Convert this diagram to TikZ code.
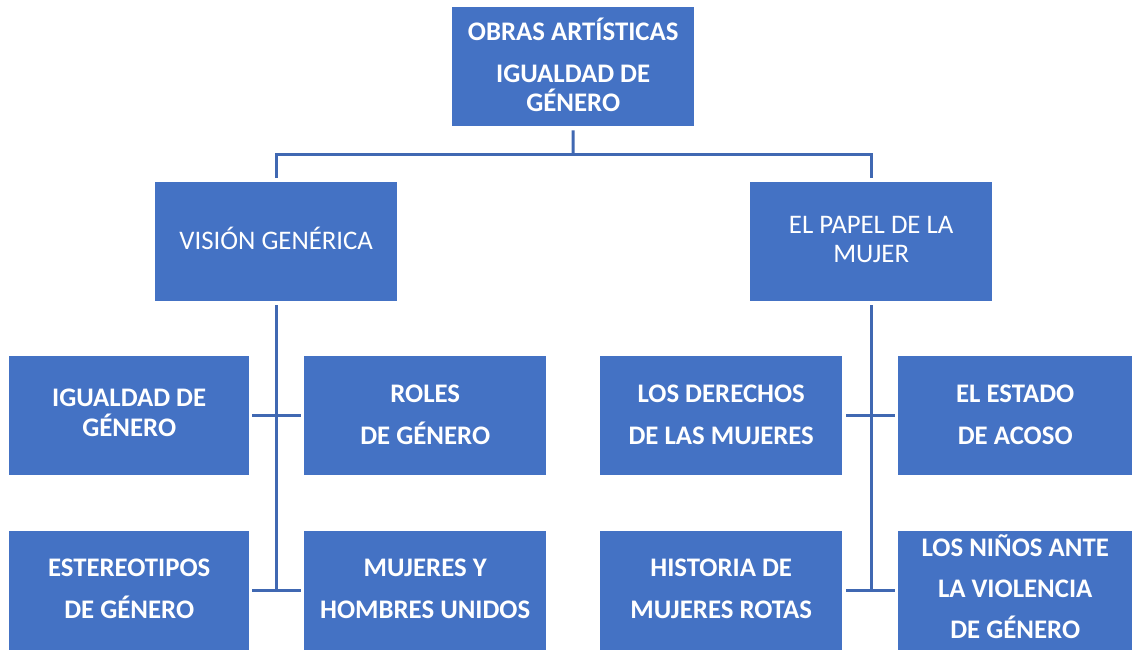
\documentclass[tikz,border=0pt]{standalone}
\usepackage{fontspec}
\setmainfont{Carlito}
\definecolor{boxblue}{HTML}{4472C4}
\definecolor{lineblue}{HTML}{4068B2}
\begin{document}
\begin{tikzpicture}[x=1pt,y=-1pt,
  box/.style={anchor=north west,fill=boxblue,draw=none,inner sep=0pt,
    minimum width=242pt,minimum height=119pt},
  lbl/.style={text=white,inner sep=0pt,align=center,
    font=\fontsize{26.8}{29.5}\selectfont},
  blbl/.style={lbl,font=\fontsize{26.8}{29.5}\selectfont\bfseries},
  conn/.style={draw=lineblue,line width=3pt}]
\useasboundingbox (0,0) rectangle (1132,650);
% boxes
\node[box,label={[blbl,yshift=2pt]center:{OBRAS ARTÍSTICAS\\[12.5pt]IGUALDAD DE\\GÉNERO}}] (top) at (452,7) {};
\node[box,label={[lbl,yshift=3pt]center:{VISIÓN GENÉRICA}}] (vis) at (155,182) {};
\node[box,label={[lbl,yshift=2pt]center:{EL PAPEL DE LA\\MUJER}}] (pap) at (750,182) {};
\node[box,minimum width=240pt,label={[blbl,yshift=3pt]center:{IGUALDAD DE\\GÉNERO}}] (igu) at (9,356) {};
\node[box,label={[blbl,yshift=1pt]center:{ROLES\\[12pt]DE GÉNERO}}] (rol) at (304,356) {};
\node[box,label={[blbl,yshift=1pt]center:{LOS DERECHOS\\[12pt]DE LAS MUJERES}}] (der) at (600,356) {};
\node[box,minimum width=234pt,label={[blbl,yshift=1pt]center:{EL ESTADO\\[12pt]DE ACOSO}}] (est) at (898,356) {};
\node[box,minimum width=240pt,label={[blbl,yshift=2pt]center:{ESTEREOTIPOS\\[12pt]DE GÉNERO}}] (ste) at (9,531) {};
\node[box,label={[blbl,yshift=2pt]center:{MUJERES Y\\[12pt]HOMBRES UNIDOS}}] (muj) at (304,531) {};
\node[box,label={[blbl,yshift=2pt]center:{HISTORIA DE\\[12pt]MUJERES ROTAS}}] (his) at (600,531) {};
\node[box,minimum width=234pt,label={[blbl,yshift=4.5pt]center:{LOS NIÑOS ANTE\\[11.5pt]LA VIOLENCIA\\[11.5pt]DE GÉNERO}}] (nin) at (898,531) {};
% connectors
\coordinate (j0) at (573,154);
\draw[conn] ([yshift=-4pt]top.south) -- (j0);
\draw[conn] ([yshift=4pt]vis.north) |- (j0) -| ([yshift=4pt]pap.north);
% left trunk
\draw[conn] ([yshift=-4pt]vis.south) -- (vis.south |- ste.east);
\draw[conn] ([xshift=3pt]igu.east) -- ([xshift=-3pt]rol.west);
\draw[conn] ([xshift=3pt]ste.east) -- ([xshift=-3pt]muj.west);
% right trunk
\draw[conn] ([yshift=-4pt]pap.south) -- (pap.south |- his.east);
\draw[conn] ([xshift=4pt]der.east) -- ([xshift=-3pt]est.west);
\draw[conn] ([xshift=4pt]his.east) -- ([xshift=-3pt]nin.west);
\end{tikzpicture}
\end{document}
